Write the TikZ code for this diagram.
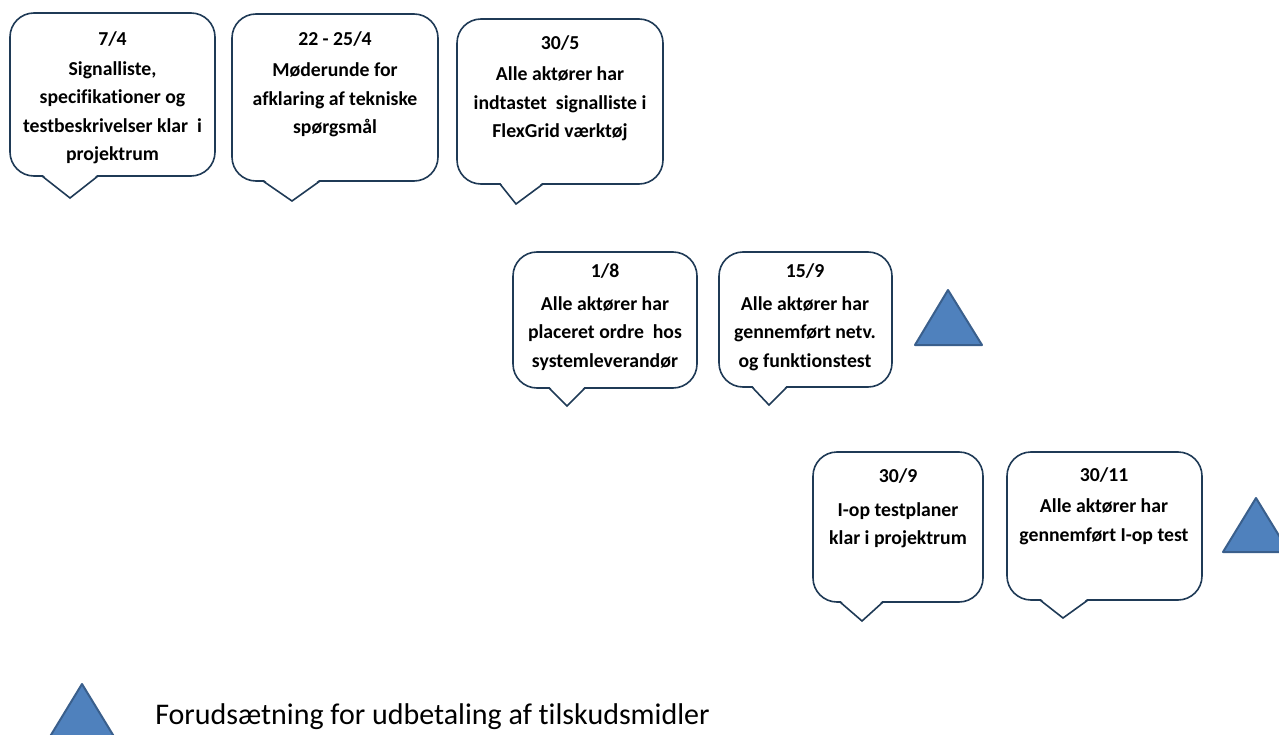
\documentclass[tikz,border=0pt]{standalone}
\usepackage{fontspec}
\setmainfont[Ligatures=NoCommon]{Carlito}
\definecolor{edge}{HTML}{1F3A56}
\definecolor{tri}{HTML}{4F81BD}
\definecolor{triedge}{HTML}{3A5F8C}
\tikzset{
  bubble/.style={draw=edge, line width=1.2pt, fill=white, rounded corners=18pt},
  tailline/.style={draw=edge, line width=1.2pt, line join=miter},
  bubbletext/.style={font=\bfseries\fontsize{14.8}{21.4}\selectfont, align=center, text=black, inner sep=0pt},
  marker/.style={fill=tri, draw=triedge, line width=1.5pt, line join=round},
}
% speech bubble: corners (x1,y1) (x2,y2), tail from x=#5 to x=#8 with tip (#6,#7)
\newcommand\speech[8]{%
  \draw[bubble] (#1,#2) rectangle (#3,#4);
  \fill[white] (#5,#4-1.8) -- (#6,#7) -- (#8,#4-1.8) -- cycle;
  \draw[tailline] (#5,#4) -- (#6,#7) -- (#8,#4);
}
\begin{document}
\begin{tikzpicture}[x=0.75pt,y=-0.75pt]
\useasboundingbox (0,0) rectangle (1279,735);

% milestone bubbles
\speech{10}{13}{215}{176}{42}{70}{198}{98}
\speech{232}{14}{438}{181}{263}{292}{201}{320}
\speech{457}{19}{663}{184}{500}{516}{204}{543}
\speech{513}{252}{697}{388}{549}{567}{406}{585}
\speech{719}{252}{892}{387}{752}{769}{405}{787}
\speech{813}{452}{983}{602}{840}{862}{621}{883}
\speech{1007}{452}{1202}{600}{1040}{1063}{618}{1088}

\node[bubbletext] (t1) at (112.5,98) {7/4\\[1pt]Signalliste,\\specifikationer og\\testbeskrivelser klar~ i\\projektrum};
\node[bubbletext] (t2) at (335,84.5) {22 - 25/4\\[2pt]Møderunde for\\afklaring af tekniske\\spørgsmål};
\node[bubbletext] (t3) at (560,88.5) {30/5\\[1.5pt]Alle aktører har\\indtastet~ signalliste i\\FlexGrid værktøj};
\node[bubbletext] (t4) at (605,317) {1/8\\[3.5pt]Alle aktører har\\placeret ordre~ hos\\systemleverandør};
\node[bubbletext] (t5) at (805,317) {15/9\\[3.5pt]Alle aktører har\\gennemført netv.\\og funktionstest};
\node[bubbletext] (t6) at (898,508.5) {30/9\\[3.5pt]I-op testplaner\\klar i projektrum};
\node[bubbletext] (t7) at (1104,506) {30/11\\[2.5pt]Alle aktører har\\gennemført I-op test};

% payout markers
\draw[marker] (915,345) -- (948,290) -- (982,345) -- cycle;
\draw[marker] (1223,552) -- (1256,498) -- (1289,552) -- cycle;

% legend
\draw[marker] (48.5,739) -- (82,684) -- (115.5,739) -- cycle;
\node[anchor=west, font=\fontsize{22.5}{27}\selectfont, inner sep=0pt] (legend) at (155,717) {Forudsætning for udbetaling af tilskudsmidler};
\end{tikzpicture}
\end{document}
